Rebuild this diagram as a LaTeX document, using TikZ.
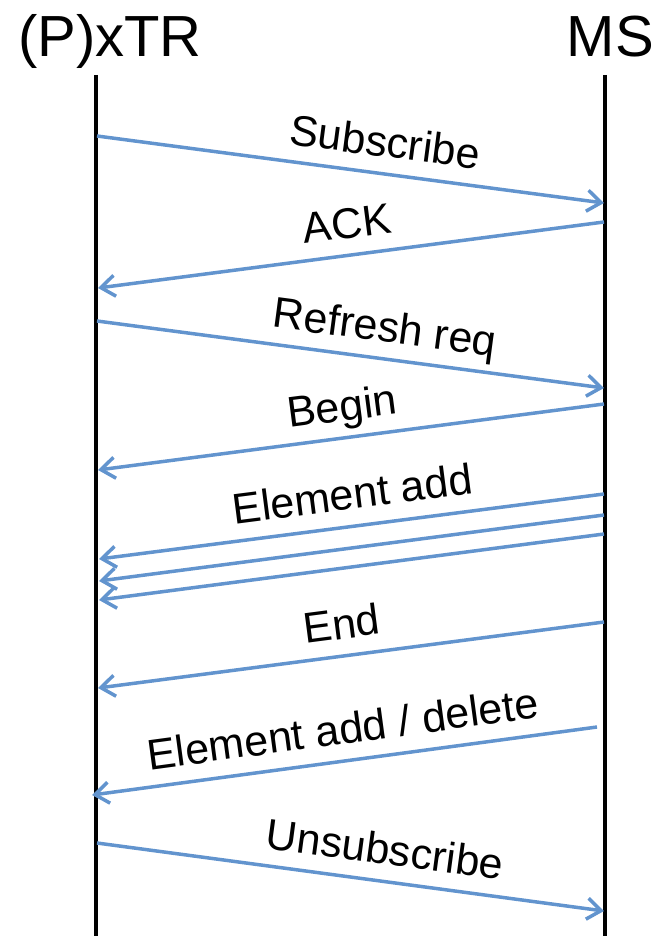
\documentclass[tikz,border=0pt]{standalone}
\usepackage{fontspec}
\setmainfont{Liberation Sans}
\usetikzlibrary{arrows.meta}
\definecolor{msgblue}{RGB}{98,148,206}
\begin{document}
\begin{tikzpicture}[x=1pt,y=-1pt,
  life/.style={line width=3.5pt, black},
  msg/.style={line width=3.5pt, msgblue, -{Straight Barb[length=14pt,width=21pt]}},
  lbl/.style={font=\fontsize{43}{43}\selectfont, text=black, sloped, anchor=base, inner sep=0pt, yshift=17pt},
  ttl/.style={font=\fontsize{58}{58}\selectfont, text=black, inner sep=0pt}]
\useasboundingbox (0,0) rectangle (657,936);
\node[ttl, anchor=base west] (xtr) at (18,57) {(P)xTR};
\node[ttl, anchor=base east] (ms) at (654,57) {MS};
\coordinate (Ltop) at (96,75); \coordinate (Lbot) at (96,936);
\coordinate (Rtop) at (605,75); \coordinate (Rbot) at (605,936);
\draw[life] (Ltop) -- (Lbot);
\draw[life] (Rtop) -- (Rbot);
\coordinate (s1) at (97,136);  \coordinate (e1) at (604,203);
\coordinate (s2) at (604,222); \coordinate (e2) at (98,288);
\coordinate (s3) at (97,321);  \coordinate (e3) at (604,388);
\coordinate (s4) at (604,404); \coordinate (e4) at (98,470);
\coordinate (s5a) at (604,494); \coordinate (e5a) at (99,559);
\coordinate (s5b) at (604,515); \coordinate (e5b) at (99,581);
\coordinate (s5c) at (604,534); \coordinate (e5c) at (99,600);
\coordinate (s6) at (604,622); \coordinate (e6) at (98,688);
\coordinate (s7) at (597,727); \coordinate (e7) at (92,795);
\coordinate (s8) at (97,843);  \coordinate (e8) at (604,911);
\draw[msg] (s1) -- node[lbl, pos=0.56] (l1) {Subscribe} (e1);
\draw[msg] (s2) -- node[lbl, pos=0.5] (l2) {ACK} (e2);
\draw[msg] (s3) -- node[lbl, pos=0.56] (l3) {Refresh req} (e3);
\draw[msg] (s4) -- node[lbl, pos=0.51] (l4) {Begin} (e4);
\draw[msg] (s5a) -- node[lbl, pos=0.49] (l5) {Element add} (e5a);
\draw[msg] (s5b) -- (e5b);
\draw[msg] (s5c) -- (e5c);
\draw[msg] (s6) -- node[lbl, pos=0.51] (l6) {End} (e6);
\draw[msg] (s7) -- node[lbl, pos=0.495] (l7) {Element add / delete} (e7);
\draw[msg] (s8) -- node[lbl, pos=0.56] (l8) {Unsubscribe} (e8);
\end{tikzpicture}
\end{document}
